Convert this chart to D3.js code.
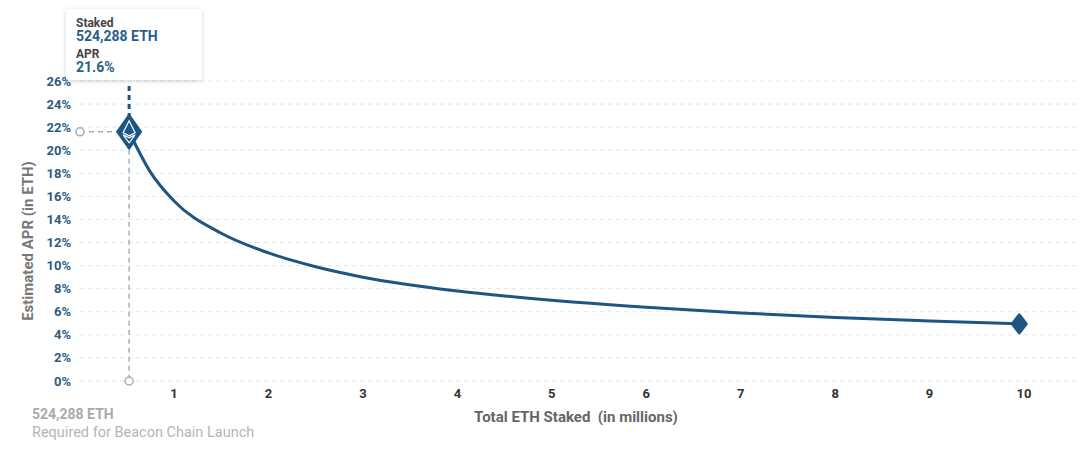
<!DOCTYPE html><html><head><meta charset="utf-8"><script src="https://cdn.jsdelivr.net/npm/d3@7"></script>
<style>body{margin:0;background:#fff;font-family:Roboto,"Open Sans",sans-serif}text{white-space:pre}</style></head><body><svg id="c" width="1080" height="450"></svg>
<script>
const stakedM=[0.524288,0.75,1,1.5,2,2.5,3,4,5,6,7,8,9,9.95];
const aprPct=[21.6,18.1,15.6,12.8,11.1,9.9,9.0,7.8,7.0,6.4,5.9,5.5,5.2,4.95];
const yTicks=[0,2,4,6,8,10,12,14,16,18,20,22,24,26];
const xTicks=[1,2,3,4,5,6,7,8,9,10];
const C="#1d5583",svg=d3.select("#c");
const x=d3.scaleLinear().domain([0,10]).range([79.6,1024]);
const y=d3.scaleLinear().domain([0,26]).range([381,81]);
const g=svg.append("g");
yTicks.forEach(t=>{
 g.append("line").attr("x1",80).attr("x2",1080).attr("y1",y(t)).attr("y2",y(t)).attr("stroke","#e2e4e6").attr("stroke-width",1).attr("stroke-dasharray","4,4");
 g.append("text").attr("x",71).attr("y",y(t)+4.5).attr("text-anchor","end").attr("font-size",13).attr("font-weight","bold").attr("fill","#2c5c82").text(t+"%");
});
xTicks.forEach(t=>g.append("text").attr("x",x(t)).attr("y",398).attr("text-anchor","middle").attr("font-size",13).attr("font-weight","bold").attr("fill","#333").text(t));
svg.append("text").attr("x",576).attr("y",422).attr("text-anchor","middle").attr("font-size",15).attr("font-weight","bold").attr("fill","#666").text("Total ETH Staked  (in millions)");
svg.append("text").attr("transform","translate(33,241) rotate(-90)").attr("text-anchor","middle").attr("font-size",15).attr("font-weight","bold").attr("fill","#777").text("Estimated APR (in ETH)");
svg.append("text").attr("x",32).attr("y",419).attr("font-size",14).attr("font-weight","bold").attr("fill","#aaa").text("524,288 ETH");
svg.append("text").attr("x",32).attr("y",437).attr("font-size",14.5).attr("fill","#b5b5b5").text("Required for Beacon Chain Launch");
const px=x(stakedM[0]),py=y(aprPct[0]);
svg.append("line").attr("x1",px).attr("x2",px).attr("y1",py).attr("y2",y(0)).attr("stroke","#9fb0bd").attr("stroke-width",1.5).attr("stroke-dasharray","5,4");
svg.append("line").attr("x1",80).attr("x2",px).attr("y1",py).attr("y2",py).attr("stroke","#9fb0bd").attr("stroke-width",1.5).attr("stroke-dasharray","5,4");
svg.append("line").attr("x1",px).attr("x2",px).attr("y1",86).attr("y2",py).attr("stroke",C).attr("stroke-width",3).attr("stroke-dasharray","5,4");
[[80,py],[px,y(0)]].forEach(p=>svg.append("circle").attr("cx",p[0]).attr("cy",p[1]).attr("r",4).attr("fill","#fff").attr("stroke","#9fb0bd").attr("stroke-width",1.5));
svg.append("path").datum(stakedM.map((d,i)=>[x(d),y(aprPct[i])])).attr("d",d3.line().curve(d3.curveMonotoneX)).attr("fill","none").attr("stroke",C).attr("stroke-width",3);
svg.append("path").attr("d",`M${px},${py-17}L${px+12},${py}L${px},${py+17}L${px-12},${py}Z`).attr("fill",C).attr("stroke",C).attr("stroke-width",2).attr("stroke-linejoin","round");
svg.append("path").attr("d",`M${px},${py-11}L${px+6},${py+1}L${px},${py+4}L${px-6},${py+1}Z M${px-6},${py+3}L${px},${py+11}L${px+6},${py+3}L${px},${py+6}Z`).attr("fill","none").attr("stroke","#fff").attr("stroke-width",1.2);
const ex=x(stakedM[13]),ey=y(aprPct[13]);
svg.append("path").attr("d",`M${ex},${ey-9}L${ex+7},${ey}L${ex},${ey+9}L${ex-7},${ey}Z`).attr("fill",C).attr("stroke",C).attr("stroke-width",3).attr("stroke-linejoin","round");
const defs=svg.append("defs");const f=defs.append("filter").attr("id","sh").attr("x","-20%").attr("y","-20%").attr("width","140%").attr("height","150%");
f.append("feDropShadow").attr("dx",0).attr("dy",1).attr("stdDeviation",2).attr("flood-color","#000").attr("flood-opacity",0.18);
svg.append("rect").attr("x",66).attr("y",9).attr("width",136).attr("height",71).attr("rx",3).attr("fill","#fff").attr("filter","url(#sh)");
[["Staked",27,12,"#444"],["524,288 ETH",41,14,"#2a5f8a"],["APR",58,12,"#444"],["21.6%",72,14,"#2a5f8a"]].forEach(r=>svg.append("text").attr("x",76).attr("y",r[1]).attr("font-size",r[2]).attr("font-weight","bold").attr("fill",r[3]).text(r[0]));
</script></body></html>
